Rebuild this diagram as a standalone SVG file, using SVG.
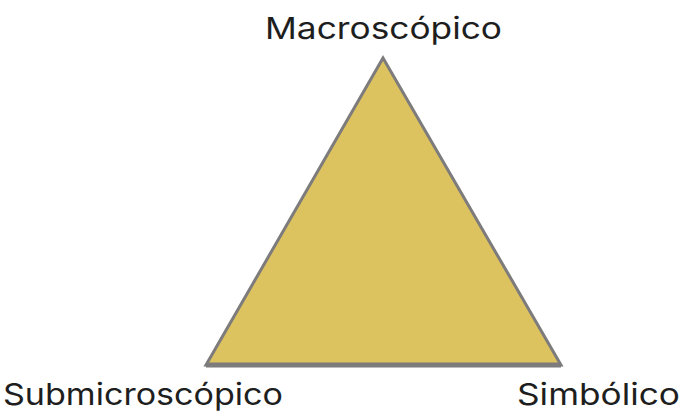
<svg xmlns="http://www.w3.org/2000/svg" width="686" height="414" viewBox="0 0 686 414">
<style>
.lbl{font-family:Inter,"Liberation Sans",sans-serif;font-size:30px;fill:#1e1e1e}
</style>
<rect width="686" height="414" fill="#ffffff"/>
<g id="triangle">
<polygon points="383,58 206,365 561,365" fill="#dcc35f" stroke="#7d7b7b" stroke-width="3" stroke-linejoin="miter"/>
<line x1="206" y1="365" x2="561" y2="365" stroke="#7d7b7b" stroke-width="5"/>
</g>
<g id="macro"><text class="lbl" x="265" y="39" textLength="237" lengthAdjust="spacingAndGlyphs">Macroscópico</text></g>
<g id="submicro"><text class="lbl" x="3" y="405" textLength="280" lengthAdjust="spacingAndGlyphs">Submicroscópico</text></g>
<g id="simb"><text class="lbl" x="517" y="405" textLength="163" lengthAdjust="spacingAndGlyphs">Simbólico</text></g>
</svg>
